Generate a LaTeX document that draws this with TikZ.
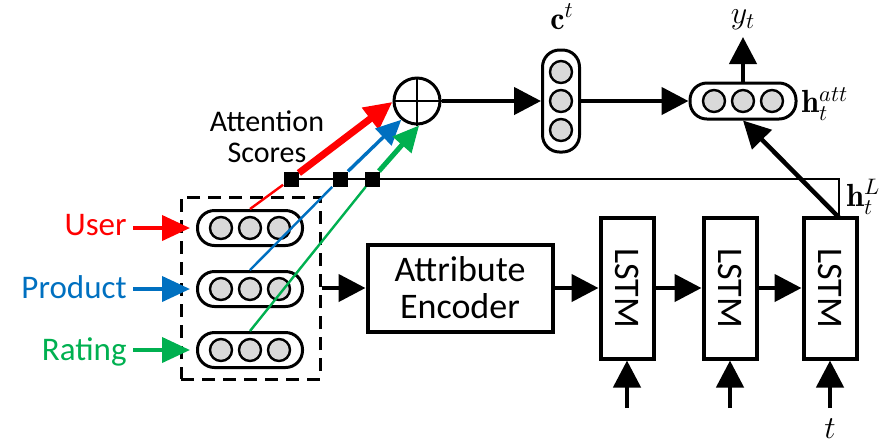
\documentclass[tikz,border=0pt]{standalone}
\usepackage{fix-cm}
\usepackage{graphicx}
\usepackage{fontspec}
\newfontfamily\carlito{Carlito}
\usetikzlibrary{arrows.meta}
\definecolor{uRed}{HTML}{FF0000}
\definecolor{pBlue}{HTML}{0070C0}
\definecolor{rGreen}{HTML}{00B050}
\tikzset{
  vecbox/.style={draw,line width=1.5pt,rounded corners=8.5pt,inner sep=0pt},
  cell/.style={circle,draw,fill=gray!30,line width=1.2pt,minimum size=11pt,inner sep=0pt},
  block/.style={draw,line width=2pt,inner sep=0pt,align=center,font=\carlito\fontsize{18}{18.5}\selectfont},
  sq/.style={fill=black,minimum size=7.5pt,inner sep=0pt},
  arr/.style={line width=2.25pt,-{Triangle[length=13.5pt,width=13.5pt]}},
  lbl/.style={inner sep=0pt,font=\carlito\fontsize{16.5}{18}\selectfont},
  mlbl/.style={inner sep=0pt,font=\fontsize{16}{18}\selectfont}
}

\begin{document}
\begin{tikzpicture}[x=0.5pt,y=-0.5pt]
      \useasboundingbox (0,0) rectangle (893,447);

      \node[draw,line width=1.5pt,dash pattern=on 6.5pt off 4pt,minimum width=69.5pt,minimum height=91pt] (attrs) at (250.5,288) {};

      \node[vecbox,minimum width=52.5pt,minimum height=17.5pt] (user) at (250,228) {};
      \node[cell] (U1) at (221,228) {};
      \node[cell] (U2) at (250,228) {};
      \node[cell] (U3) at (279,228) {};
      \node[vecbox,minimum width=52.5pt,minimum height=17.5pt] (prod) at (250,289) {};
      \node[cell] (P1) at (221,289) {};
      \node[cell] (P2) at (250,289) {};
      \node[cell] (P3) at (279,289) {};
      \node[vecbox,minimum width=52.5pt,minimum height=17.5pt] (rate) at (250,350) {};
      \node[cell] (R1) at (221,350) {};
      \node[cell] (R2) at (250,350) {};
      \node[cell] (R3) at (279,350) {};

      \node[lbl,text=uRed,anchor=base east] (userlbl) at (127,235) {User};
      \node[lbl,text=pBlue,anchor=base east] (prodlbl) at (127,298) {Product};
      \node[lbl,text=rGreen,anchor=base east] (ratelbl) at (127,360) {Rating};
      \node[lbl,align=center,font=\carlito\fontsize{15}{15.5}\selectfont] (attn) at (267,137) {Attention\\Scores};

      \draw[uRed,line width=2pt,-{Triangle[length=14pt,width=12.5pt]},shorten <=3pt,shorten >=3pt] (userlbl.east |- user) -- (user);
      \draw[pBlue,line width=2pt,-{Triangle[length=14pt,width=12.5pt]},shorten <=3pt,shorten >=3pt] (prodlbl.east |- prod) -- (prod);
      \draw[rGreen,line width=2pt,-{Triangle[length=14pt,width=12.5pt]},shorten <=3pt,shorten >=3pt] (ratelbl.east |- rate) -- (rate);

      \node[circle,draw,line width=1.5pt,minimum size=23pt,inner sep=0pt] (sum) at (417,101) {};
      \draw[line width=1pt] (sum.north) -- (sum.south) (sum.west) -- (sum.east);

      \coordinate (hL) at (839,217.5);
      \draw[line width=1pt] (291,179) -| (hL);
      \node[sq] (sqU) at (291,179) {};
      \node[sq] (sqP) at (340,179) {};
      \node[sq] (sqR) at (372,179) {};

      \draw[uRed,line width=1.2pt] (user.north) -- (sqU);
      \draw[uRed,line width=3.5pt,-{Triangle[length=14pt,width=13pt]}] (sqU) -- (sum.182);
      \draw[pBlue,line width=1.2pt] (prod.north) -- (sqP);
      \draw[pBlue,line width=1.7pt,-{Triangle[length=12.5pt,width=11.5pt]}] (sqP) -- (sum.230);
      \draw[rGreen,line width=1.2pt] (rate.north) -- (sqR);
      \draw[rGreen,line width=2.5pt,-{Triangle[length=13pt,width=12pt]}] (sqR) -- (sum.275);

      \node[block,minimum width=92.5pt,minimum height=43.5pt] (enc) at (460,288) {Attribute\\Encoder};
      \node[block,minimum width=26.5pt,minimum height=70.5pt] (lstm1) at (627,288) {\rotatebox{-90}{LSTM}};
      \node[block,minimum width=26.5pt,minimum height=70.5pt] (lstm2) at (730,288) {\rotatebox{-90}{LSTM}};
      \node[block,minimum width=26.5pt,minimum height=70.5pt] (lstm3) at (830,288) {\rotatebox{-90}{LSTM}};
      \coordinate (in1) at (627,408);
      \coordinate (in2) at (730,408);
      \coordinate (in3) at (830,408);
      \node[mlbl] (tlbl) at (830,429) {$t$};

      \draw[arr] (attrs) -- (enc);
      \draw[arr] (enc) -- (lstm1);
      \draw[arr] (lstm1) -- (lstm2);
      \draw[arr] (lstm2) -- (lstm3);
      \draw[arr] (in1) -- (lstm1);
      \draw[arr] (in2) -- (lstm2);
      \draw[arr] (in3) -- (lstm3);

      \node[vecbox,minimum width=18.5pt,minimum height=51pt] (ct) at (561,101) {};
      \node[cell] (C1) at (561,72) {};
      \node[cell] (C2) at (561,101) {};
      \node[cell] (C3) at (561,130) {};
      \node[mlbl] (clbl) at (562,17) {$\mathbf{c}^t$};

      \node[vecbox,minimum width=53pt,minimum height=18pt] (hatt) at (743,101) {};
      \node[cell] (H1) at (714,101) {};
      \node[cell] (H2) at (743,101) {};
      \node[cell] (H3) at (772,101) {};
      \node[mlbl,anchor=west] (hattlbl) at (801,104) {$\mathbf{h}_t^{att}$};
      \node[mlbl,anchor=west] (hLlbl) at (846,197) {$\mathbf{h}_t^{L}$};
      \coordinate (yt) at (743,37);
      \node[mlbl] (ylbl) at (743,20) {$y_t$};

      \draw[arr] (sum) -- (ct);
      \draw[arr] (ct) -- (hatt);
      \draw[arr] (hatt) -- (yt);
      \draw[arr] (hL) -- (hatt.south);
\end{tikzpicture}
\end{document}
